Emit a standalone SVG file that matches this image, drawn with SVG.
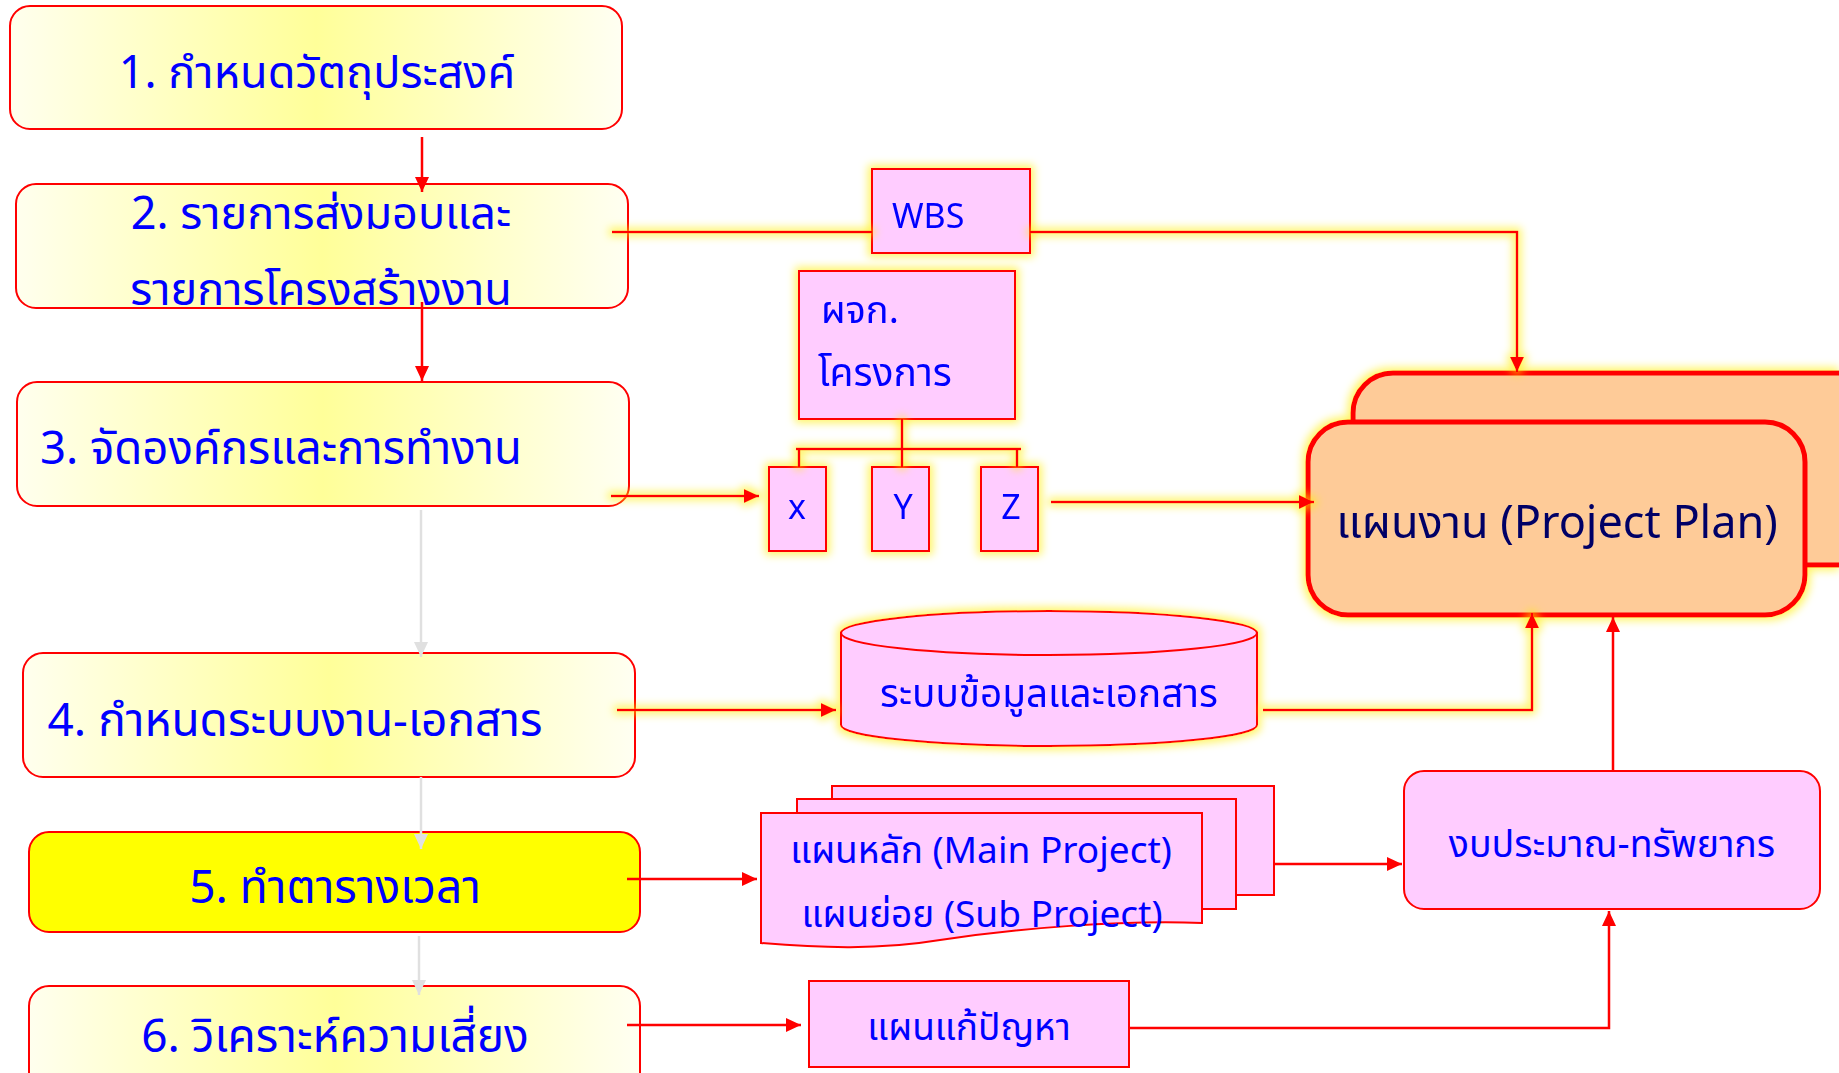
<svg xmlns="http://www.w3.org/2000/svg" width="1839" height="1073" viewBox="0 0 1839 1073">
<defs>
<style>
.yb{fill:url(#yg);stroke:#ff0000;stroke-width:2}
.yy{fill:#ffff00;stroke:#ff0000;stroke-width:2}
.pk{fill:#ffccff;stroke:#ff0000;stroke-width:2}
.pl{fill:#fecb98;stroke:#ff0000;stroke-width:5}
.t{font-family:'Noto Sans Thai','Noto Sans','Liberation Sans',sans-serif;fill:#0000ff}
.big{font-size:45.5px}
.mid{font-size:37.5px}
.sm{font-size:34px}
.c{stroke:#ff0000;stroke-width:2.5;fill:none}
.g{stroke:#e0e0e0;stroke-width:2.5;fill:none}
</style>
<linearGradient id="yg" x1="0" y1="0" x2="1" y2="0">
<stop offset="0" stop-color="#ffffee"/>
<stop offset="0.5" stop-color="#ffff99"/>
<stop offset="1" stop-color="#fffff2"/>
</linearGradient>
<filter id="glow" filterUnits="userSpaceOnUse" x="0" y="0" width="1839" height="1073">
<feMorphology in="SourceAlpha" operator="dilate" radius="3" result="d"/>
<feGaussianBlur in="d" stdDeviation="4" result="b"/>
<feFlood flood-color="#ffee00" flood-opacity="0.6"/>
<feComposite in2="b" operator="in" result="gl"/>
<feMerge><feMergeNode in="gl"/><feMergeNode in="SourceGraphic"/></feMerge>
</filter>
<marker id="ar" markerUnits="userSpaceOnUse" markerWidth="15" markerHeight="14" refX="15" refY="7" orient="auto">
<path d="M0,0 L15,7 L0,14 Z" fill="#ff0000"/>
</marker>
<marker id="ag" markerUnits="userSpaceOnUse" markerWidth="15" markerHeight="14" refX="15" refY="7" orient="auto">
<path d="M0,0 L15,7 L0,14 Z" fill="#e0e0e0"/>
</marker>
</defs>
<rect width="1839" height="1073" fill="#ffffff"/>

<g id="n1"><rect class="yb" x="10" y="6" width="612" height="123" rx="20"/>
<text class="t big" x="317" y="88" text-anchor="middle" style="font-size:45px">1. กำหนดวัตถุประสงค์</text></g>
<g id="n2"><rect class="yb" x="16" y="184" width="612" height="124" rx="20"/>
<text class="t big" x="321" y="229" text-anchor="middle" style="font-size:45px">2. รายการส่งมอบและ</text>
<text class="t big" x="321" y="305" text-anchor="middle" style="font-size:45px">รายการโครงสร้างงาน</text></g>
<g id="n3"><rect class="yb" x="17" y="382" width="612" height="124" rx="20"/>
<text class="t big" x="281" y="464" text-anchor="middle">3. จัดองค์กรและการทำงาน</text></g>
<g id="n4"><rect class="yb" x="23" y="653" width="612" height="124" rx="20"/>
<text class="t big" x="295" y="736" text-anchor="middle" style="font-size:46px">4. กำหนดระบบงาน-เอกสาร</text></g>
<g id="n5"><rect class="yy" x="29" y="832" width="611" height="100" rx="20"/>
<text class="t big" x="335" y="903" text-anchor="middle" style="font-size:46px">5. ทำตารางเวลา</text></g>
<g id="n6"><rect class="yb" x="29" y="986" width="611" height="110" rx="20"/>
<text class="t big" x="335" y="1052" text-anchor="middle" style="font-size:46px">6. วิเคราะห์ความเสี่ยง</text></g>

<g id="wbs" filter="url(#glow)"><rect class="pk" x="872" y="169" width="158" height="84"/>
<text class="t sm" x="892" y="228">WBS</text></g>
<g id="pm" filter="url(#glow)"><rect class="pk" x="799" y="271" width="216" height="148"/>
<text class="t" x="821" y="323" style="font-size:38px">ผจก.</text>
<text class="t" x="818" y="386" style="font-size:39px">โครงการ</text></g>
<g id="nx" filter="url(#glow)"><rect class="pk" x="769" y="467" width="57" height="84"/>
<text class="t sm" x="797" y="519" text-anchor="middle">x</text></g>
<g id="ny" filter="url(#glow)"><rect class="pk" x="872" y="467" width="57" height="84"/>
<text class="t sm" x="903" y="519" text-anchor="middle">Y</text></g>
<g id="nz" filter="url(#glow)"><rect class="pk" x="981" y="467" width="57" height="84"/>
<text class="t sm" x="1011" y="519" text-anchor="middle">Z</text></g>

<g id="plan" filter="url(#glow)">
<rect class="pl" x="1353" y="373" width="530" height="192" rx="40"/>
<rect class="pl" x="1308" y="422" width="497" height="193" rx="40"/>
<text class="t big" x="1557" y="538" text-anchor="middle" style="fill:#000066;font-size:45px">แผนงาน (Project Plan)</text></g>

<g id="db" filter="url(#glow)">
<path class="pk" d="M841,633 L841,725 A208,21 0 0 0 1257,725 L1257,633 Z"/>
<ellipse class="pk" cx="1049" cy="633" rx="208" ry="22"/>
<text class="t mid" x="1049" y="707" text-anchor="middle" style="font-size:38.7px">ระบบข้อมูลและเอกสาร</text></g>

<g id="docs">
<rect class="pk" x="832" y="786" width="442" height="109"/>
<rect class="pk" x="797" y="799" width="439" height="110"/>
<path class="pk" d="M761,813 H1202 V923 C1120,920 1020,928 940,940 C880,950 820,948 761,943 Z"/>
<text class="t mid" x="981" y="863" text-anchor="middle" style="font-size:37px">แผนหลัก (Main Project)</text>
<text class="t mid" x="982" y="927" text-anchor="middle" style="font-size:37px">แผนย่อย (Sub Project)</text></g>

<g id="budget"><rect class="pk" x="1404" y="771" width="416" height="138" rx="20"/>
<text class="t mid" x="1612" y="857" text-anchor="middle">งบประมาณ-ทรัพยากร</text></g>

<g id="fix"><rect class="pk" x="809" y="981" width="320" height="86"/>
<text class="t mid" x="969" y="1040" text-anchor="middle" style="font-size:37px">แผนแก้ปัญหา</text></g>

<g id="connectors">
<path class="c" d="M422,137 V192" marker-end="url(#ar)"/>
<path class="c" d="M422,302 V381" marker-end="url(#ar)"/>
<path class="g" d="M421,510 V657" marker-end="url(#ag)"/>
<path class="g" d="M421,777 V849" marker-end="url(#ag)"/>
<path class="g" d="M419,936 V995" marker-end="url(#ag)"/>
<g filter="url(#glow)">
<path class="c" d="M612,232 H872"/>
<path class="c" d="M1030,232 H1517 V372" marker-end="url(#ar)"/>
<path class="c" d="M611,496 H759" marker-end="url(#ar)"/>
<path class="c" d="M1051,502 H1314" marker-end="url(#ar)"/>
<path class="c" d="M617,710 H836" marker-end="url(#ar)"/>
<path class="c" d="M1263,710 H1532 V613" marker-end="url(#ar)"/>
<path class="c" d="M902,419 V467 M796,449 H1021 M799,449 V467 M1017,449 V467"/>
</g>
<path class="c" d="M1274,864 H1402" marker-end="url(#ar)"/>
<path class="c" d="M1613,771 V617" marker-end="url(#ar)"/>
<path class="c" d="M627,879 H757" marker-end="url(#ar)"/>
<path class="c" d="M627,1025 H801" marker-end="url(#ar)"/>
<path class="c" d="M1129,1028 H1609 V911" marker-end="url(#ar)"/>
</g>
</svg>
